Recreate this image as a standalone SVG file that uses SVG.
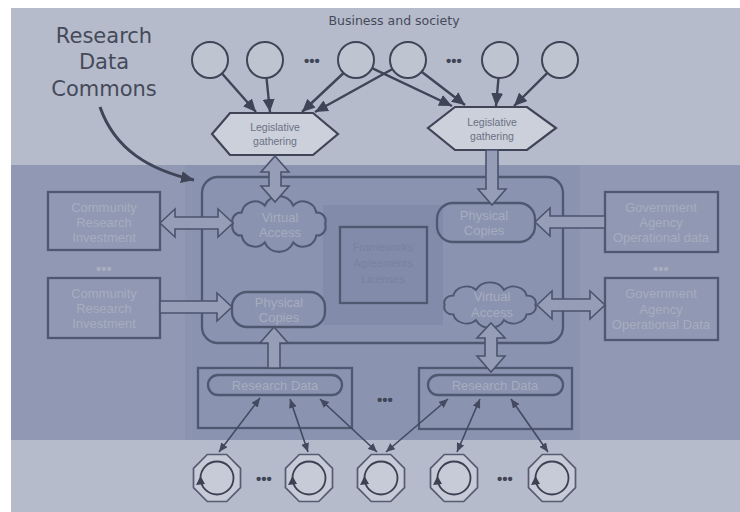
<svg xmlns="http://www.w3.org/2000/svg" xmlns:xlink="http://www.w3.org/1999/xlink" width="740" height="512" viewBox="0 0 740 512">
  <style>
    .title { font-family: "DejaVu Sans", "Open Sans", sans-serif; fill: #454a5a; }
    .lbl { font-family: "Liberation Sans", Arial, sans-serif; text-anchor: middle; }
    .faded { fill: #a7adbf; font-size: 13px; }
    .hexlbl { fill: #6c7184; font-size: 10.5px; }
    .center { fill: #79829f; font-size: 11px; }
    .dots { font-family: "Liberation Sans", Arial, sans-serif; font-weight: bold; text-anchor: middle; }
    .ctr { fill: #bfc4d1; stroke: #3f4456; stroke-width: 2; }
    .hex { fill: #cbd0db; stroke: #3f4456; stroke-width: 2.2; }
    .box { fill: none; stroke: #4f5771; stroke-width: 2.3; }
    .block { fill: #959db7; stroke: #4c536d; stroke-width: 1.6; stroke-linejoin: miter; }
    .feed { fill: none; stroke: #3f4456; stroke-width: 2.4; marker-end: url(#headBig); }
    .link { fill: none; stroke: #434a60; stroke-width: 1.6; marker-start: url(#headSmallStart); marker-end: url(#headSmall); }
  </style>
  <defs>
    <marker id="headBig" markerUnits="userSpaceOnUse" markerWidth="14" markerHeight="12" refX="13" refY="6" orient="auto">
      <path d="M0,0 L13,6 L0,12 Z" fill="#3f4456"/>
    </marker>
    <marker id="headSmall" markerUnits="userSpaceOnUse" markerWidth="10" markerHeight="8" refX="9" refY="4" orient="auto">
      <path d="M0,0 L9,4 L0,8 Z" fill="#434a60"/>
    </marker>
    <marker id="headSmallStart" markerUnits="userSpaceOnUse" markerWidth="10" markerHeight="8" refX="1" refY="4" orient="auto">
      <path d="M10,0 L1,4 L10,8 Z" fill="#434a60"/>
    </marker>
    <!-- cloud outline centred on 0,0 -->
    <path id="cloud" d="M-44,0 A8,8 0 0 1 -35.6,-10.6 A13,13 0 0 1 -13.6,-17.1 A15,15 0 0 1 13.6,-17.1 A13,13 0 0 1 35.6,-10.6 A8,8 0 0 1 44,0 A8,8 0 0 1 35.6,10.6 A13,13 0 0 1 13.6,17.1 A15,15 0 0 1 -13.6,17.1 A13,13 0 0 1 -35.6,10.6 A8,8 0 0 1 -44,0 Z"/>
    <!-- octagonal actor with a cycling arrow inside -->
    <g id="actor">
      <polygon points="23.5,9.7 9.7,23.5 -9.7,23.5 -23.5,9.7 -23.5,-9.7 -9.7,-23.5 9.7,-23.5 23.5,-9.7" fill="#c6cbd7" stroke="#555b71" stroke-width="1.7"/>
      <circle r="16.5" fill="none" stroke="#3b4052" stroke-width="1.8"/>
      <polygon points="-16.5,-2 -21,7 -12,6" fill="#3b4052"/>
    </g>
  </defs>

  <!-- background bands -->
  <rect width="740" height="512" fill="#ffffff"/>
  <rect x="11" y="8" width="729" height="504" fill="#b5bbca"/>
  <rect x="11" y="165" width="729" height="275" fill="#9098b3"/>
  <rect x="185" y="165" width="395" height="275" fill="#8a93af"/>
  <rect x="323" y="205" width="120" height="120" fill="#828ba9"/>

  <!-- heading texts -->
  <g id="commons-title" class="title" text-anchor="middle" font-size="21">
    <text x="104" y="43">Research</text>
    <text x="104" y="69">Data</text>
    <text x="104" y="96">Commons</text>
  </g>
  <text id="society-title" class="title" x="394" y="25" font-size="12.5" text-anchor="middle">Business and society</text>

  <!-- business and society actors -->
  <g id="actor-b1"><circle class="ctr" cx="210" cy="60" r="18"/></g>
  <g id="actor-b2"><circle class="ctr" cx="265" cy="60" r="18"/></g>
  <g id="actor-b3"><circle class="ctr" cx="356" cy="60" r="18"/></g>
  <g id="actor-b4"><circle class="ctr" cx="408" cy="60" r="18"/></g>
  <g id="actor-b5"><circle class="ctr" cx="500" cy="60" r="18"/></g>
  <g id="actor-b6"><circle class="ctr" cx="560" cy="60" r="18"/></g>
  <text class="dots" x="312" y="66" font-size="15" fill="#3f4456">•••</text>
  <text class="dots" x="454" y="66" font-size="15" fill="#3f4456">•••</text>

  <!-- legislative gathering -->
  <g id="gather-left">
    <polygon class="hex" points="230,113 313,113 338,134 313,155 230,155 212,134"/>
    <text class="lbl hexlbl" x="275" y="131">Legislative</text>
    <text class="lbl hexlbl" x="275" y="145">gathering</text>
  </g>
  <g id="gather-right">
    <polygon class="hex" points="455,107 527,107 556,128 527,150 455,150 428,128"/>
    <text class="lbl hexlbl" x="492" y="126">Legislative</text>
    <text class="lbl hexlbl" x="492" y="140">gathering</text>
  </g>

  <!-- commons container -->
  <g id="commons">
    <rect class="box" x="202" y="177" width="361" height="166" rx="16"/>
  </g>
  <g id="frameworks">
    <rect class="box" x="340" y="227" width="87" height="76" stroke="#687090"/>
    <text class="lbl center" x="383" y="251">Frameworks</text>
    <text class="lbl center" x="383" y="267">Agreements</text>
    <text class="lbl center" x="383" y="283">Licenses</text>
  </g>

  <g id="virtual-left">
    <use xlink:href="#cloud" transform="translate(279,224) scale(1.05,1.08)" fill="none" stroke="#4f5771" stroke-width="2" vector-effect="non-scaling-stroke"/>
    <text class="lbl faded" x="280" y="222">Virtual</text>
    <text class="lbl faded" x="280" y="237">Access</text>
  </g>
  <g id="physical-left">
    <rect class="box" x="232" y="292" width="93" height="35" rx="15" stroke-width="2"/>
    <text class="lbl faded" x="279" y="307">Physical</text>
    <text class="lbl faded" x="279" y="322">Copies</text>
  </g>
  <g id="physical-right">
    <rect class="box" x="437" y="203" width="98" height="39" rx="16" stroke-width="2"/>
    <text class="lbl faded" x="484" y="220">Physical</text>
    <text class="lbl faded" x="484" y="235">Copies</text>
  </g>
  <g id="virtual-right">
    <use xlink:href="#cloud" transform="translate(490,305) scale(1.03,0.88)" fill="none" stroke="#4f5771" stroke-width="2" vector-effect="non-scaling-stroke"/>
    <text class="lbl faded" x="492" y="301">Virtual</text>
    <text class="lbl faded" x="492" y="317">Access</text>
  </g>

  <!-- investment and operational data sources -->
  <g id="community-1">
    <rect class="box" x="48" y="192" width="112" height="58"/>
    <text class="lbl faded" x="104" y="212">Community</text>
    <text class="lbl faded" x="104" y="227">Research</text>
    <text class="lbl faded" x="104" y="242">Investment</text>
  </g>
  <text class="dots" x="104" y="274" font-size="15" fill="#a7adbf">•••</text>
  <g id="community-2">
    <rect class="box" x="48" y="278" width="112" height="60"/>
    <text class="lbl faded" x="104" y="298">Community</text>
    <text class="lbl faded" x="104" y="313">Research</text>
    <text class="lbl faded" x="104" y="328">Investment</text>
  </g>
  <g id="agency-1">
    <rect class="box" x="605" y="192" width="113" height="60"/>
    <text class="lbl faded" x="661" y="212">Government</text>
    <text class="lbl faded" x="661" y="227">Agency</text>
    <text class="lbl faded" x="661" y="242">Operational data</text>
  </g>
  <text class="dots" x="661" y="274" font-size="15" fill="#a7adbf">•••</text>
  <g id="agency-2">
    <rect class="box" x="605" y="278" width="113" height="62"/>
    <text class="lbl faded" x="661" y="298">Government</text>
    <text class="lbl faded" x="661" y="314">Agency</text>
    <text class="lbl faded" x="661" y="329">Operational Data</text>
  </g>

  <!-- research data stores -->
  <g id="research-data-left">
    <rect class="box" x="198" y="368" width="154" height="60"/>
    <rect class="box" x="208" y="375" width="134" height="20" rx="10" stroke-width="2"/>
    <text class="lbl faded" x="275" y="390">Research Data</text>
  </g>
  <text class="dots" x="385" y="405" font-size="15" fill="#3f4456">•••</text>
  <g id="research-data-right">
    <rect class="box" x="419" y="368" width="153" height="61"/>
    <rect class="box" x="428" y="375" width="135" height="20" rx="10" stroke-width="2"/>
    <text class="lbl faded" x="495" y="390">Research Data</text>
  </g>

  <!-- researchers -->
  <g id="researcher-1"><use xlink:href="#actor" x="217" y="478"/></g>
  <g id="researcher-2"><use xlink:href="#actor" x="309" y="478"/></g>
  <g id="researcher-3"><use xlink:href="#actor" x="381" y="478"/></g>
  <g id="researcher-4"><use xlink:href="#actor" x="454" y="478"/></g>
  <g id="researcher-5"><use xlink:href="#actor" x="552" y="478"/></g>
  <text class="dots" x="264" y="484" font-size="15" fill="#3f4456">•••</text>
  <text class="dots" x="505" y="484" font-size="15" fill="#3f4456">•••</text>

  <!-- connectors -->
  <g id="connectors">
    <!-- society to legislative gathering -->
    <path class="feed" d="M222,73.5 L256,112"/>
    <path class="feed" d="M266.5,78 L270,112"/>
    <path class="feed" d="M343.6,73 L302,112"/>
    <path class="feed" d="M392.5,69 L315,112"/>
    <path class="feed" d="M372,68.2 L452,106"/>
    <path class="feed" d="M421.6,71.8 L465,105"/>
    <path class="feed" d="M498.5,78 L496,106"/>
    <path class="feed" d="M547.4,72.9 L514,106"/>

    <!-- title pointer -->
    <path d="M100,107 C115,150 150,170 194,180" fill="none" stroke="#3f4456" stroke-width="3" marker-end="url(#headBig)"/>

    <!-- block arrows -->
    <polygon class="block" points="275,156 289,172 281,172 281,186 289,186 275,202 261,186 269,186 269,172 261,172" fill="#bfc4d1"/>
    <polygon class="block" points="486,150 498,150 498,189 506,189 492,205 478,189 486,189" fill="#bfc4d1"/>
    <polygon class="block" points="160,223 175,209 175,217 218,217 218,209 233,223 218,237 218,229 175,229 175,237"/>
    <polygon class="block" points="160,301 217,301 217,293 232,307 217,321 217,313 160,313"/>
    <polygon class="block" points="605,216 550,216 550,208 535,222 550,236 550,228 605,228"/>
    <polygon class="block" points="537,305 552,291 552,299 590,299 590,291 605,305 590,319 590,311 552,311 552,319"/>
    <polygon class="block" points="274,327 288,343 280,343 280,368 268,368 268,343 260,343"/>
    <polygon class="block" points="491,323 505,338 497,338 497,356 505,356 491,372 477,356 485,356 485,338 477,338"/>

    <!-- research data to researchers -->
    <path class="link" d="M260,398 L219,452"/>
    <path class="link" d="M290,399 L308,452"/>
    <path class="link" d="M320,399 L377,452"/>
    <path class="link" d="M448,399 L386,452"/>
    <path class="link" d="M480,399 L457,452"/>
    <path class="link" d="M511,399 L548,452"/>
  </g>
</svg>
